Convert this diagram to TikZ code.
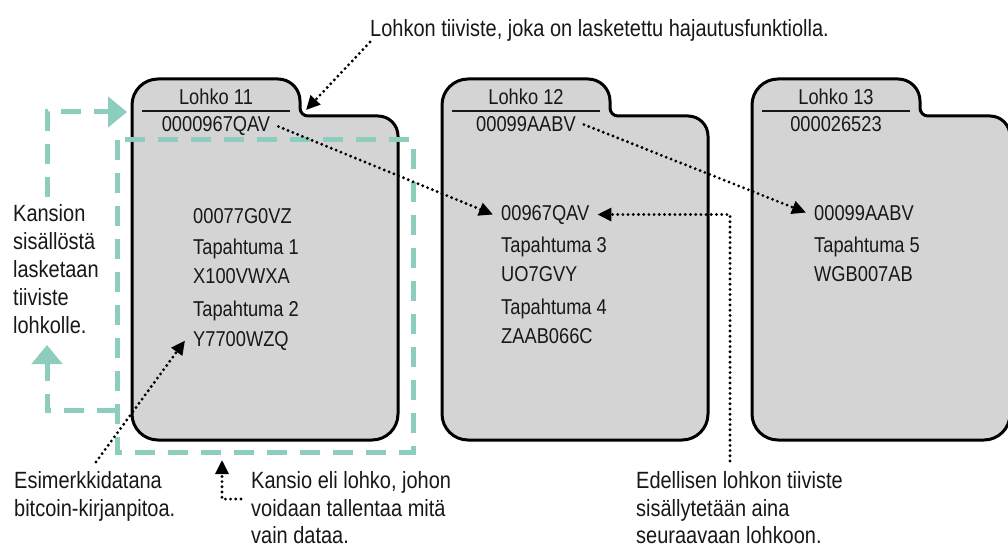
\documentclass[tikz,border=0pt]{standalone}
\usepackage{fontspec}
\setmainfont{Liberation Sans}[FakeStretch=0.85]
\usetikzlibrary{arrows.meta}
\definecolor{mint}{RGB}{140,205,189}
\definecolor{folderfill}{RGB}{212,212,212}
\definecolor{ink}{RGB}{24,24,24}

\begin{document}
\begin{tikzpicture}[x=1pt,y=-1pt,
  folder/.style={draw=black, line width=3pt, fill=folderfill, line join=round},
  headrule/.style={draw=ink, line width=1.1pt},
  ftext/.style={font=\fontsize{21.5}{24}\selectfont, text=ink, inner xsep=8pt, inner ysep=2pt},
  note/.style={font=\fontsize{23.5}{28}\selectfont, text=ink, inner sep=0pt, anchor=base west},
  dots/.style={draw=black, line width=3.2pt, dash pattern=on 0pt off 5.2pt, line cap=round},
  dotarrow/.style={dots, -{Triangle[length=14pt,width=13pt]}},
  mintdash/.style={draw=mint, line width=5pt, dash pattern=on 20pt off 13pt},
  mintarrow/.style={mintdash, -{Triangle[length=19pt,width=30pt]}},
]
\fill[white] (0,0) rectangle (1008,548);
\useasboundingbox (0,0) rectangle (1008,548);
\clip (0,0) rectangle (1008,548);

% three folders: left edge / right edge
\foreach \L/\R in {132/398, 442/708, 752/1010}{
  \draw[folder] (\L,105)
    arc[start angle=180, end angle=270, radius=26]
    -- (\L+146,79)
    arc[start angle=270, end angle=360, radius=22]
    -- (\L+168,108)
    arc[start angle=180, end angle=90, radius=8]
    -- (\R-20,116)
    arc[start angle=270, end angle=360, radius=20]
    -- (\R,414)
    arc[start angle=0, end angle=90, radius=26]
    -- (\L+26,440)
    arc[start angle=90, end angle=180, radius=26]
    -- cycle;
  \draw[headrule] (\L+10,111) -- (\L+158,111);
}

% folder contents
\node[ftext, anchor=base] (t11) at (216,105) {Lohko 11};
\node[ftext, anchor=base] (h11) at (216,132) {0000967QAV};
\node[ftext, anchor=base west] (p11) at (185,223) {00077G0VZ};
\node[ftext, anchor=base west] (a1) at (185,254) {Tapahtuma 1};
\node[ftext, anchor=base west] (x1) at (185,283) {X100VWXA};
\node[ftext, anchor=base west] (a2) at (185,316) {Tapahtuma 2};
\node[ftext, anchor=base west] (y2) at (185,346) {Y7700WZQ};

\node[ftext, anchor=base] (t12) at (526,105) {Lohko 12};
\node[ftext, anchor=base] (h12) at (526,132) {00099AABV};
\node[ftext, anchor=base west] (p12) at (493,220) {00967QAV};
\node[ftext, anchor=base west] (a3) at (493,252) {Tapahtuma 3};
\node[ftext, anchor=base west] (u3) at (493,281) {UO7GVY};
\node[ftext, anchor=base west] (a4) at (493,314) {Tapahtuma 4};
\node[ftext, anchor=base west] (z4) at (493,343) {ZAAB066C};

\node[ftext, anchor=base] (t13) at (836,105) {Lohko 13};
\node[ftext, anchor=base] (h13) at (836,132) {000026523};
\node[ftext, anchor=base west] (p13) at (806,220) {00099AABV};
\node[ftext, anchor=base west] (a5) at (806,252) {Tapahtuma 5};
\node[ftext, anchor=base west] (w5) at (806,281) {WGB007AB};

% annotations
\node[note] (top) at (370,37) {Lohkon tiiviste, joka on lasketettu hajautusfunktiolla.};

\node[note] (k1) at (13,221) {Kansion};
\node[note] (k2) at (13,249) {sisällöstä};
\node[note] (k3) at (13,277) {lasketaan};
\node[note] (k4) at (13,305) {tiiviste};
\node[note] (k5) at (13,333) {lohkolle.};

\node[note] (e1) at (14,488) {Esimerkkidatana};
\node[note] (e2) at (14,516) {bitcoin-kirjanpitoa.};

\node[note] (f1) at (251,488) {Kansio eli lohko, johon};
\node[note] (f2) at (251,516) {voidaan tallentaa mitä};
\node[note] (f3) at (251,543) {vain dataa.};

\node[note] (d1) at (636,488) {Edellisen lohkon tiiviste};
\node[note] (d2) at (636,516) {sisällytetään aina};
\node[note] (d3) at (636,543) {seuraavaan lohkoon.};

% the block's content, hashed into the block
\draw[mintdash] (117,140) rectangle (413,452);
\draw[mintarrow] (117,410) -- (47,410) -- (47,345);
\draw[mintarrow] (47,197) -- (47,112) -- (127,112);

% dotted pointers
\coordinate (tabtip) at (306,110);
\draw[dotarrow] (top.south west) -- (tabtip);
\draw[dotarrow] (h11.east) -- (p12.west);
\draw[dotarrow] (h12.east) -- (p13.west);
\coordinate (prevfoot) at (730,461);
\draw[dotarrow] (prevfoot) |- (p12.east);
\coordinate (datafoot) at (96,462);
\draw[dotarrow] (datafoot) -- (y2.west);
\coordinate (boxfoot) at (241,499);
\coordinate (boxtip) at (222,460);
\draw[dotarrow] (boxfoot) -| (boxtip);
\end{tikzpicture}
\end{document}
